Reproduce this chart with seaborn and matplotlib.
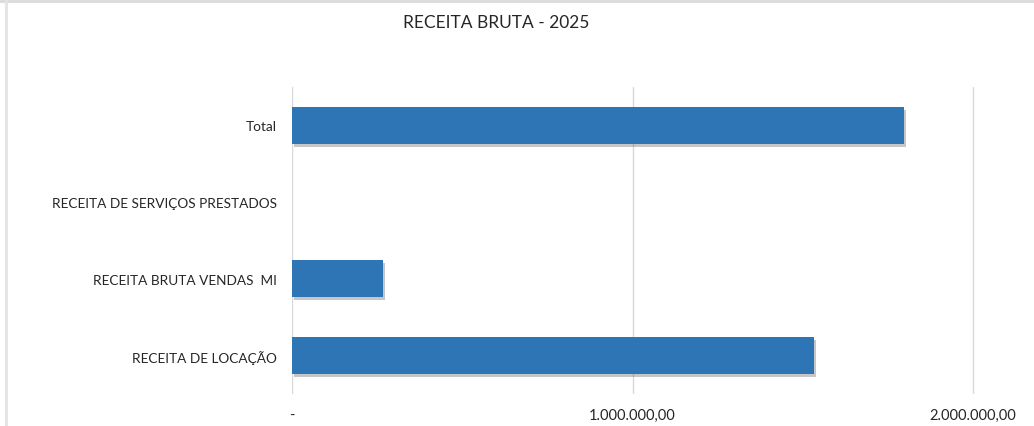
import matplotlib
matplotlib.use("Agg")
import matplotlib.pyplot as plt
import matplotlib.patheffects as pe
from matplotlib.lines import Line2D
from matplotlib.ticker import FuncFormatter
import seaborn as sns

# Data
categories = [
    "Total",
    "RECEITA DE SERVIÇOS PRESTADOS",
    "RECEITA BRUTA VENDAS  MI",
    "RECEITA DE LOCAÇÃO",
]
values = [1797000, 0, 267000, 1533000]
x_ticks = [0, 1000000, 2000000]


def br_fmt(v, pos):
    if v == 0:
        return "-"
    s = f"{v:,.2f}"
    return s.replace(",", "X").replace(".", ",").replace("X", ".")


sns.set_theme(style="white")
plt.rcParams["font.family"] = ["Lato", "DejaVu Sans"]

fig = plt.figure(figsize=(10.34, 4.27), dpi=100)
ax = fig.add_axes([0.2824, 0.075, 0.6916, 0.719])

sns.barplot(x=values, y=categories, color="#2E75B6", width=0.48, orient="h",
            saturation=1, linewidth=0, ax=ax)

# soft drop shadow like the spreadsheet style
for bar in ax.patches:
    if bar.get_width() <= 0:
        bar.set_visible(False)
        continue
    bar.set_path_effects([pe.SimplePatchShadow(offset=(1.5, -2), alpha=0.3,
                                               shadow_rgbFace="#444444"),
                          pe.Normal()])

ax.set_xlim(0, 2100000)
ax.set_ylim(3.5, -0.5)
ax.set_xticks(x_ticks)
ax.xaxis.set_major_formatter(FuncFormatter(br_fmt))
ax.grid(axis="x", color="#D9D9D9", linewidth=1)
ax.set_axisbelow(True)
sns.despine(ax=ax, left=True, bottom=True, top=True, right=True)
ax.tick_params(axis="both", length=0, colors="#404040")
ax.tick_params(axis="x", pad=10, labelsize=10.5)
ax.tick_params(axis="y", pad=11, labelsize=9.8)
for lbl in ax.get_yticklabels() + ax.get_xticklabels():
    lbl.set_color("#262626")
ax.set_xlabel("")
ax.set_ylabel("")

fig.text(0.48, 0.945, "RECEITA BRUTA - 2025", ha="center", va="center",
         fontsize=12.5, color="#262626")

# Light frame edges as in the screenshot
fig.add_artist(Line2D([0, 1], [0.995, 0.995], color="#DADADA", lw=2,
                      transform=fig.transFigure))
fig.add_artist(Line2D([0.006, 0.006], [0, 1], color="#E4E4E4", lw=2,
                      transform=fig.transFigure))

fig.savefig("out.png", dpi=100, facecolor="white")
